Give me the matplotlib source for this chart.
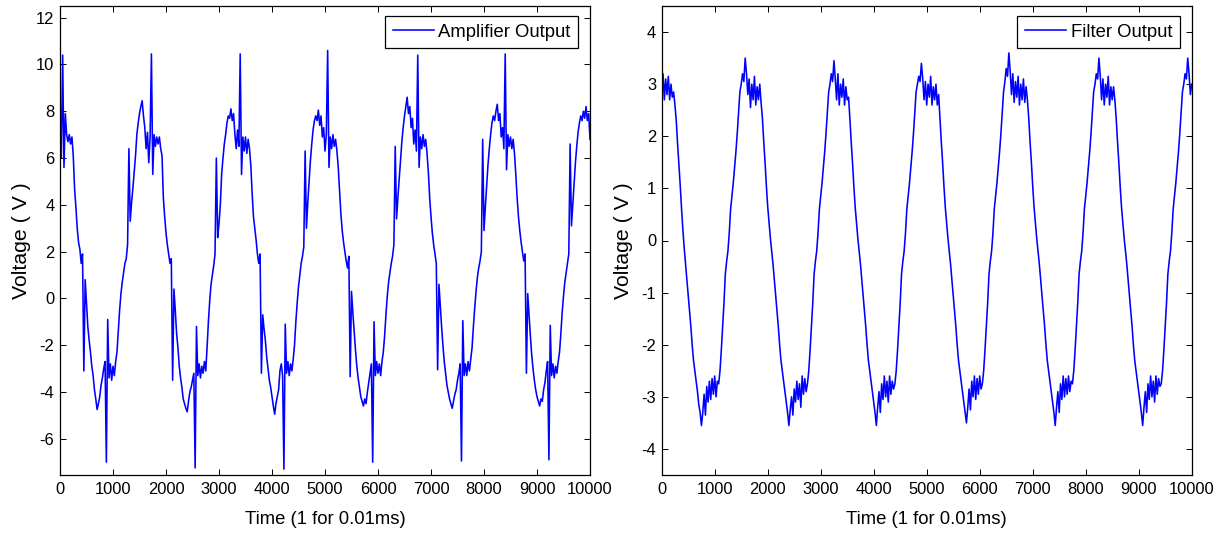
import matplotlib
matplotlib.use('Agg')
import matplotlib.pyplot as plt
import numpy as np
from matplotlib import font_manager

# Шаг отсчётов, с которым значения
step = 25

# Выход усилителя (В), t = 0, 25, ..., 10000
amp_out = [
    6.8, 6.0, 10.4, 5.6, 7.9, 7.0, 6.7, 7.0, 6.6, 6.9, 6.1, 4.7, 3.9, 3.0, 2.4, 2.1, 1.5, 1.9, -3.1, 0.8,
    -0.2, -1.2, -1.8, -2.3, -2.9, -3.3, -3.9, -4.3, -4.75, -4.5, -4.2, -3.7, -3.4, -3.0, -2.7, -7.0, -0.9, -3.4, -2.8, -3.5,
    -2.9, -3.3, -2.7, -2.3, -1.4, -0.5, 0.2, 0.7, 1.1, 1.5, 1.7, 2.3, 6.4, 3.3, 4.1, 4.7, 5.4, 6.1, 7.0, 7.5,
    7.9, 8.2, 8.45, 7.8, 7.3, 6.4, 7.1, 5.8, 6.9, 10.45, 5.3, 7.0, 6.5, 6.9, 6.6, 6.9, 6.4, 6.1, 4.3, 3.5,
    2.8, 2.3, 1.9, 1.5, 1.7, -3.5, 0.4, -0.5, -1.5, -2.1, -2.9, -3.4, -3.8, -4.3, -4.5, -4.7, -4.85, -4.4, -4.0, -3.8,
    -3.5, -3.2, -7.25, -1.2, -3.3, -2.8, -3.4, -2.9, -3.2, -2.7, -3.1, -2.1, -1.0, -0.1, 0.6, 1.0, 1.4, 1.9, 6.0, 2.6,
    3.2, 4.0, 5.3, 6.0, 6.6, 7.0, 7.5, 7.8, 7.7, 8.1, 7.6, 7.9, 7.0, 6.4, 7.2, 6.5, 10.45, 5.3, 6.9, 6.3,
    6.9, 6.2, 6.8, 6.4, 5.7, 4.5, 3.5, 3.0, 2.5, 1.9, 1.5, 1.9, -3.2, -0.7, -1.3, -1.8, -2.5, -3.0, -3.5, -3.8,
    -4.2, -4.6, -4.95, -4.5, -4.2, -3.9, -3.1, -2.8, -3.3, -7.3, -1.1, -3.2, -2.7, -3.3, -2.8, -3.1, -2.6, -2.0, -1.0, -0.2,
    0.5, 1.0, 1.5, 1.8, 2.2, 6.3, 3.0, 4.1, 5.0, 5.9, 6.6, 7.2, 7.6, 7.8, 7.6, 8.05, 7.4, 7.8, 6.9, 7.3,
    6.3, 7.0, 10.6, 5.6, 6.9, 6.4, 7.0, 6.5, 6.8, 6.3, 5.6, 4.6, 3.6, 2.9, 2.4, 2.0, 1.6, 1.3, 1.8, -3.35,
    0.3, -0.6, -1.4, -2.2, -2.9, -3.4, -3.8, -4.2, -4.4, -4.6, -4.3, -4.5, -4.0, -3.6, -3.2, -2.8, -7.0, -1.0, -3.3, -2.7,
    -3.2, -2.8, -3.3, -2.7, -2.3, -1.6, -0.7, 0.1, 0.7, 1.1, 1.5, 1.8, 2.3, 6.5, 3.4, 4.3, 5.1, 5.9, 6.7, 7.3,
    7.8, 8.2, 8.6, 7.9, 8.2, 7.3, 7.7, 6.6, 7.2, 6.3, 10.4, 5.6, 6.9, 6.4, 7.0, 6.5, 6.8, 6.2, 5.4, 4.3,
    3.5, 2.8, 2.3, 1.9, 1.5, -3.05, 0.6, -0.3, -1.2, -2.0, -2.7, -3.2, -3.7, -4.0, -4.3, -4.5, -4.7, -4.4, -4.1, -3.9,
    -3.5, -3.2, -2.8, -6.95, -0.95, -3.3, -2.8, -3.3, -2.7, -3.1, -2.6, -2.1, -1.2, -0.4, 0.3, 0.9, 1.3, 1.6, 2.0, 6.8,
    2.9, 3.9, 4.8, 5.7, 6.4, 7.0, 7.5, 7.8, 7.6, 8.0, 8.3, 7.6, 7.9, 6.9, 7.3, 6.4, 10.45, 5.5, 7.0, 6.5,
    6.9, 6.4, 6.8, 6.2, 5.3, 4.3, 3.5, 2.9, 2.4, 2.0, 1.6, 1.9, -3.2, 0.2, -0.7, -1.6, -2.4, -3.0, -3.5, -3.9,
    -4.2, -4.4, -4.6, -4.3, -4.4, -3.9, -3.6, -3.1, -2.7, -6.9, -1.15, -3.3, -2.8, -3.4, -2.9, -3.2, -2.7, -2.3, -1.5, -0.6,
    0.1, 0.7, 1.1, 1.5, 1.9, 6.6, 3.1, 4.0, 4.9, 5.8, 6.5, 7.1, 7.5, 7.8, 7.6, 8.0, 7.7, 8.2, 7.6, 7.9,
    6.8]

# Выход фильтра (В), t = 0, 25, ..., 10000
filt_out = [
    2.9, 3.2, 2.7, 3.1, 2.8, 3.15, 2.7, 3.0, 2.75, 2.85, 2.6, 2.3, 1.85, 1.45, 1.05, 0.6, 0.2, -0.15, -0.45, -0.75,
    -1.05, -1.35, -1.65, -2.0, -2.3, -2.5, -2.7, -2.9, -3.15, -3.3, -3.55, -3.3, -2.95, -3.35, -2.8, -3.1, -2.7, -3.05, -2.65, -2.95,
    -2.6, -3.0, -2.7, -2.75, -2.5, -2.1, -1.65, -1.2, -0.65, -0.4, -0.2, 0.15, 0.6, 0.85, 1.1, 1.4, 1.7, 2.05, 2.45, 2.85,
    3.0, 3.2, 3.05, 3.5, 3.2, 2.8, 3.1, 2.55, 3.0, 2.7, 3.15, 2.6, 2.95, 2.7, 3.0, 2.65, 2.35, 1.9, 1.5, 1.05,
    0.65, 0.35, 0.05, -0.2, -0.45, -0.75, -1.05, -1.35, -1.65, -2.0, -2.3, -2.5, -2.7, -2.9, -3.1, -3.3, -3.55, -3.25, -3.0, -3.35,
    -2.85, -3.1, -2.7, -3.05, -2.75, -3.2, -2.6, -2.95, -2.65, -2.9, -2.75, -2.5, -2.1, -1.65, -1.2, -0.65, -0.4, -0.2, 0.15, 0.6,
    0.85, 1.1, 1.4, 1.7, 2.05, 2.45, 2.85, 3.0, 3.2, 3.05, 3.45, 3.1, 2.7, 3.2, 2.6, 3.0, 2.75, 3.1, 2.6, 2.95,
    2.7, 2.75, 2.35, 1.9, 1.5, 1.05, 0.65, 0.35, 0.05, -0.2, -0.45, -0.75, -1.05, -1.35, -1.65, -2.0, -2.3, -2.5, -2.7, -2.9,
    -3.1, -3.3, -3.55, -3.2, -2.9, -3.3, -2.75, -3.05, -2.6, -3.0, -2.7, -3.1, -2.6, -2.95, -2.7, -2.85, -2.75, -2.5, -2.1, -1.65,
    -1.2, -0.65, -0.4, -0.2, 0.15, 0.6, 0.85, 1.1, 1.4, 1.7, 2.05, 2.45, 2.85, 3.0, 3.15, 3.05, 3.4, 3.1, 2.7, 3.05,
    2.6, 3.0, 2.75, 3.15, 2.6, 2.95, 2.7, 3.0, 2.6, 2.8, 2.35, 1.9, 1.5, 1.05, 0.65, 0.35, 0.05, -0.2, -0.45, -0.75,
    -1.05, -1.35, -1.65, -2.0, -2.3, -2.5, -2.7, -2.9, -3.1, -3.3, -3.5, -3.2, -2.85, -3.25, -2.7, -3.0, -2.6, -3.05, -2.65, -2.95,
    -2.6, -2.85, -2.75, -2.5, -2.1, -1.65, -1.2, -0.65, -0.4, -0.2, 0.15, 0.6, 0.85, 1.1, 1.4, 1.7, 2.05, 2.45, 2.85, 3.05,
    3.3, 3.15, 3.6, 3.25, 2.8, 3.2, 2.65, 3.05, 2.75, 3.15, 2.6, 3.0, 2.7, 3.1, 2.65, 2.95, 2.7, 2.35, 1.9, 1.5,
    1.05, 0.65, 0.35, 0.05, -0.2, -0.45, -0.75, -1.05, -1.35, -1.65, -2.0, -2.3, -2.5, -2.7, -2.9, -3.1, -3.3, -3.55, -3.2, -2.9,
    -3.3, -2.75, -3.05, -2.6, -3.0, -2.65, -2.95, -2.6, -2.9, -2.7, -2.75, -2.5, -2.1, -1.65, -1.2, -0.65, -0.4, -0.2, 0.15, 0.6,
    0.85, 1.1, 1.4, 1.7, 2.05, 2.45, 2.85, 3.0, 3.2, 3.1, 3.5, 3.15, 2.7, 3.1, 2.6, 3.0, 2.75, 3.15, 2.6, 2.95,
    2.7, 2.95, 2.7, 2.35, 1.9, 1.5, 1.05, 0.65, 0.35, 0.05, -0.2, -0.45, -0.75, -1.05, -1.35, -1.65, -2.0, -2.3, -2.5, -2.7,
    -2.9, -3.1, -3.3, -3.55, -3.2, -2.9, -3.3, -2.75, -3.05, -2.6, -3.0, -2.7, -3.1, -2.6, -2.95, -2.65, -2.8, -2.75, -2.5, -2.1,
    -1.65, -1.2, -0.65, -0.4, -0.2, 0.15, 0.6, 0.85, 1.1, 1.4, 1.7, 2.05, 2.45, 2.85, 3.0, 3.2, 3.1, 3.5, 3.2, 2.8,
    3.0]

x_ticks = list(range(0, 10001, 1000))
amp_yticks = [-6, -4, -2, 0, 2, 4, 6, 8, 10, 12]
filt_yticks = [-4, -3, -2, -1, 0, 1, 2, 3, 4]

t_amp = np.arange(len(amp_out)) * step
t_filt = np.arange(len(filt_out)) * step

# Узкий шрифт, если он есть (подписи в оригинале сжаты по горизонтали)
names = {f.name for f in font_manager.fontManager.ttflist}
if 'Liberation Sans Narrow' in names:
    hfont = 'Liberation Sans Narrow'
    k = 1.0
else:
    hfont = 'Liberation Sans'
    k = 0.82
plt.rcParams['font.family'] = [hfont, 'DejaVu Sans']
plt.rcParams['axes.unicode_minus'] = False  # минус как в MATLAB: "-"

W, H = 1217, 534
fig = plt.figure(figsize=(W / 100, H / 100), dpi=100)
ax1 = fig.add_axes([60 / W, 59 / H, 530 / W, 469 / H])
ax2 = fig.add_axes([661.7 / W, 59 / H, 530 / W, 469 / H])


def style_axes(ax, yticks, ylim):
    ax.set_xlim(0, 10000)
    ax.set_ylim(*ylim)
    ax.set_xticks(x_ticks)
    ax.set_yticks(yticks)
    ax.tick_params(direction='in', top=True, right=True, length=4, width=0.7,
                   labelsize=14.5 * k, pad=4, colors='black')
    ax.tick_params(axis='x', pad=5)
    for s in ax.spines.values():
        s.set_linewidth(0.9)
    ax.set_xlabel('Time (1 for 0.01ms)', fontsize=16.3 * k, va='center')
    ax.xaxis.set_label_coords(0.5, -0.094)
    ax.set_ylabel('Voltage ( V )', fontsize=15.3, family='Liberation Sans', va='center')
    ax.yaxis.set_label_coords(-0.072, 0.5)
    ax.legend(loc='upper right', bbox_to_anchor=(0.978, 0.979), borderaxespad=0,
              fancybox=False, edgecolor='black', framealpha=1, fontsize=16.3 * k,
              handlelength=2.2, handletextpad=0.25, borderpad=0.42)
    ax.get_legend().get_frame().set_linewidth(0.9)


ax1.plot(t_amp, amp_out, color='#0000ff', lw=1.15, label='Amplifier Output')
style_axes(ax1, amp_yticks, (-7.55, 12.5))

ax2.plot(t_filt, filt_out, color='#0000ff', lw=1.15, label='Filter Output')
style_axes(ax2, filt_yticks, (-4.5, 4.5))

fig.savefig('out.png', dpi=100, facecolor='white')
